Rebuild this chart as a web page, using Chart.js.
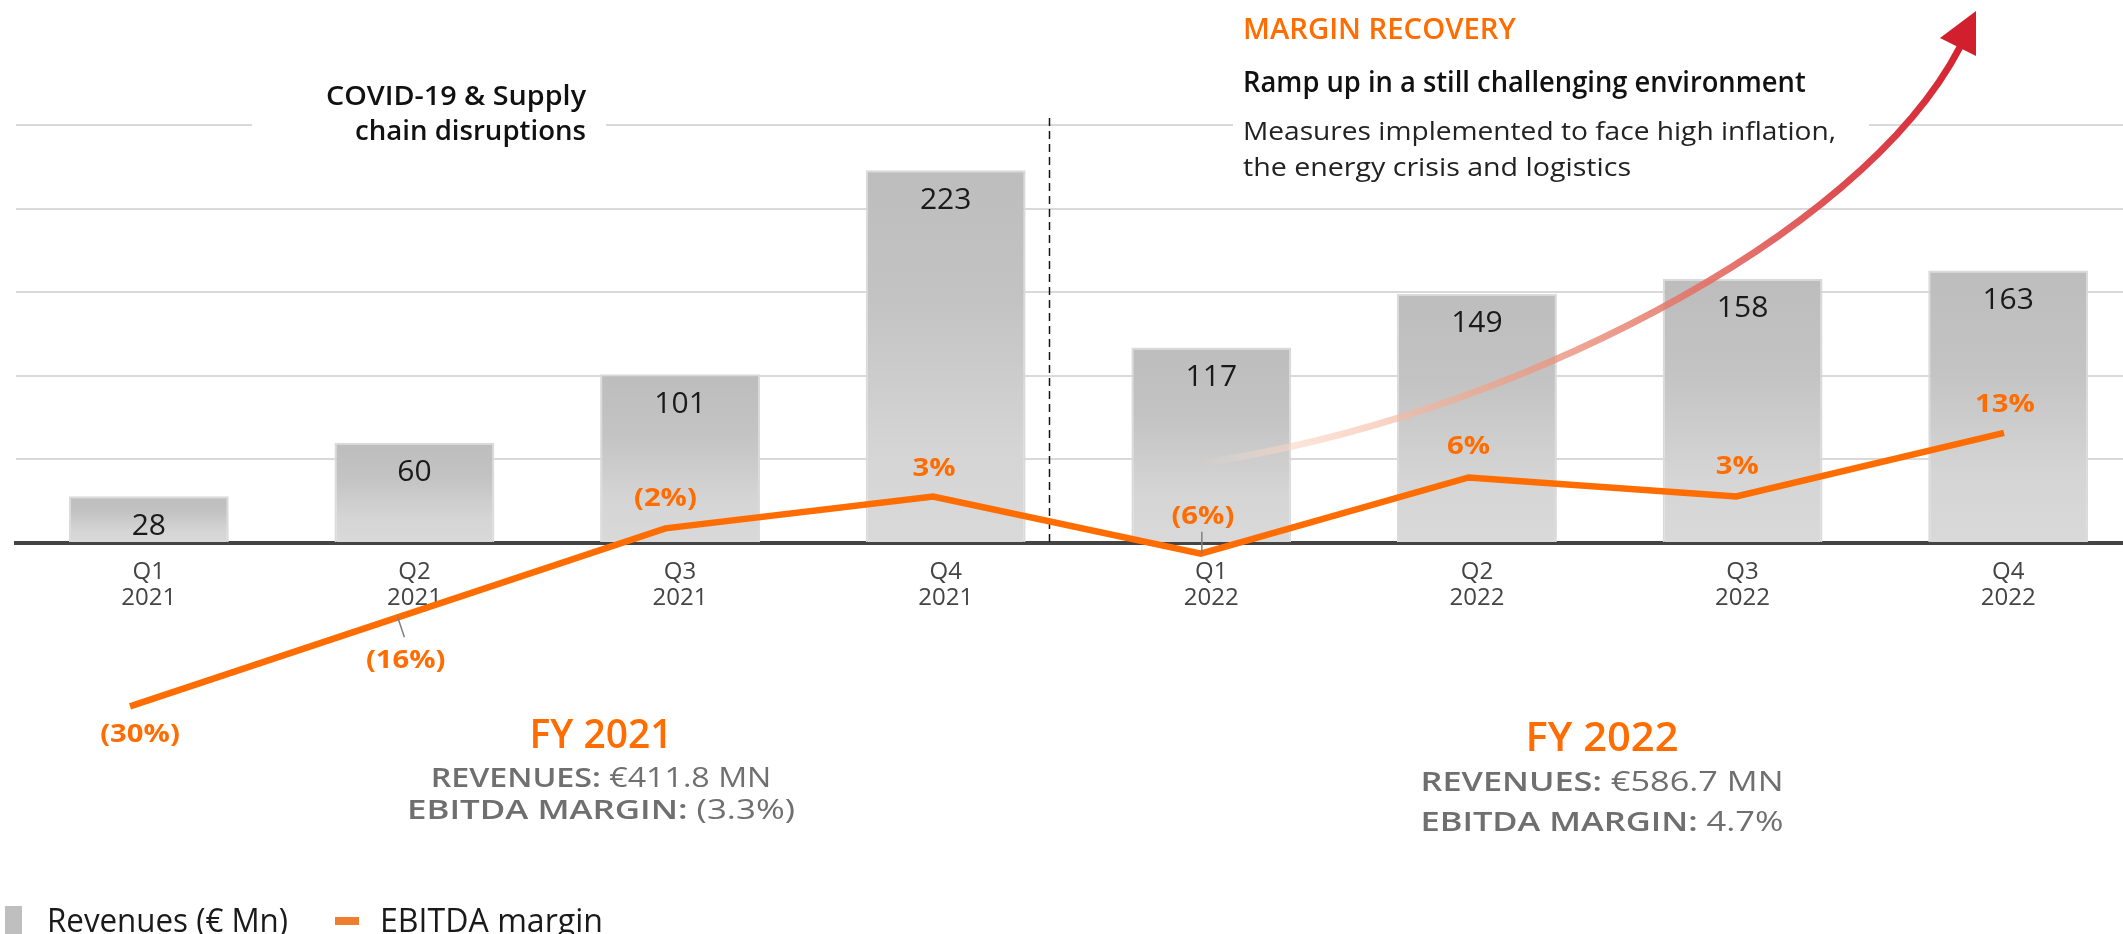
<!DOCTYPE html>
<html>
<head>
<meta charset="utf-8">
<script src="https://cdn.jsdelivr.net/npm/chart.js@4.4.1/dist/chart.umd.min.js"></script>
<style>
  html, body { margin: 0; padding: 0; background: #ffffff; overflow: hidden; width: 2123px; height: 934px; }
  #wrap { position: absolute; left: 0; top: 0; width: 2142px; height: 934px; }
</style>
</head>
<body>
<div id="wrap"><canvas id="chart"></canvas></div>
<script>
// ---------------- data ----------------
const quarters = ['Q1', 'Q2', 'Q3', 'Q4', 'Q1', 'Q2', 'Q3', 'Q4'];
const years = ['2021', '2021', '2021', '2021', '2022', '2022', '2022', '2022'];
const revenues = [28, 60, 101, 223, 117, 149, 158, 163];          // € Mn
const ebitdaMargin = [-30, -16, -2, 3, -6, 6, 3, 13];            // %
const revenueTicks = [0, 50, 100, 150, 200, 250];
const seriesNames = ['Revenues (€ Mn)', 'EBITDA margin'];
const fyTitles = ['FY 2021', 'FY 2022'];
const fyRevenues = ['€411.8 MN', '€586.7 MN'];
const fyMargins = ['(3.3%)', '4.7%'];
const covidNote = ['COVID-19 & Supply', 'chain disruptions'];
const recoveryTitle = 'MARGIN RECOVERY';
const recoveryLines = ['Ramp up in a still challenging environment',
                       'Measures implemented to face high inflation,',
                       'the energy crisis and logistics'];

// ---------------- styles ----------------
const ORANGE = '#ff6c00';
const FONT = '"Open Sans", "Noto Sans", sans-serif';
const marginLabelDx = [10, 8, 0, 1, 2, 0, 1, 1];
const marginLabelDy = [36, 51, -22, -21, -30, -23, -23, -21];   // baseline offset from point
const leaders = { 1: [6.7, 20], 4: [1, -22] };

function drawRuns(ctx, runs, x, y, align, targetW, sxFixed) {
  ctx.save();
  ctx.textBaseline = 'alphabetic';
  ctx.textAlign = 'left';
  let natural = 0;
  runs.forEach(r => {
    ctx.font = r.font;
    r.w = ctx.measureText(r.text).width;
    natural += r.w;
  });
  const sx = targetW ? targetW / natural : (sxFixed || 1);
  const total = natural * sx;
  const x0 = align === 'center' ? x - total / 2 : (align === 'right' ? x - total : x);
  ctx.translate(x0, y);
  ctx.scale(sx, 1);
  let cx = 0;
  runs.forEach(r => {
    ctx.font = r.font;
    ctx.fillStyle = r.color;
    ctx.fillText(r.text, cx, 0);
    cx += r.w;
  });
  ctx.restore();
}

const overlay = {
  id: 'overlay',
  beforeDatasetsDraw(chart) {
    const { ctx, scales: { x, y } } = chart;
    const p3 = x.getPixelForValue(3), p4 = x.getPixelForValue(4);
    const sx = Math.round(p3 + (p4 - p3) * 0.39) + 0.5;
    ctx.save();
    ctx.strokeStyle = '#151515';
    ctx.lineWidth = 1.5;
    ctx.setLineDash([8, 5]);
    ctx.beginPath();
    ctx.moveTo(sx, 118);
    ctx.lineTo(sx, y.getPixelForValue(0));
    ctx.stroke();
    ctx.restore();
    // white masks behind the annotation texts
    ctx.save();
    ctx.fillStyle = '#ffffff';
    ctx.fillRect(252, 112, 354, 28);
    ctx.fillRect(1233, 112, 636, 28);
    ctx.restore();
  },
  afterDatasetsDraw(chart) {
    const { ctx } = chart;

    // recovery arrow
    ctx.save();
    const P0 = [1202, 463], P1 = [1500, 420], P2 = [1860, 240], P3 = [1960, 47];
    const g = ctx.createLinearGradient(P0[0], P0[1], P3[0], P3[1]);
    g.addColorStop(0, 'rgba(252,228,214,0)');
    g.addColorStop(0.1, 'rgba(250,212,192,0.6)');
    g.addColorStop(0.35, 'rgba(236,160,135,0.75)');
    g.addColorStop(0.6, 'rgba(228,112,100,0.88)');
    g.addColorStop(0.8, 'rgba(220,68,74,0.96)');
    g.addColorStop(1, 'rgb(212,35,48)');
    ctx.strokeStyle = g;
    ctx.lineWidth = 7;
    ctx.lineCap = 'butt';
    ctx.beginPath();
    ctx.moveTo(P0[0], P0[1]);
    ctx.bezierCurveTo(P1[0], P1[1], P2[0], P2[1], P3[0], P3[1]);
    ctx.stroke();
    ctx.fillStyle = '#d21f2e';
    ctx.beginPath();
    ctx.moveTo(1976, 11);
    ctx.lineTo(1940, 38);
    ctx.lineTo(1976, 56);
    ctx.closePath();
    ctx.fill();
    ctx.restore();

    // bar value labels
    const bm = chart.getDatasetMeta(0);
    bm.data.forEach((bar, i) => {
      drawRuns(ctx, [{ text: String(revenues[i]), font: '400 30px ' + FONT, color: '#1a1a1a' }],
               bar.x, bar.y + 38.5, 'center');
    });

    // margin labels + leader lines
    const lm = chart.getDatasetMeta(1);
    lm.data.forEach((pt, i) => {
      const v = ebitdaMargin[i];
      const txt = v < 0 ? '(' + Math.abs(v) + '%)' : v + '%';
      drawRuns(ctx, [{ text: txt, font: '700 25px ' + FONT, color: ORANGE }],
               pt.x + marginLabelDx[i], pt.y + marginLabelDy[i], 'center', 0, 1.17);
      if (leaders[i]) {
        ctx.save();
        ctx.strokeStyle = '#808080';
        ctx.lineWidth = 1.5;
        ctx.beginPath();
        ctx.moveTo(pt.x + (i === 4 ? 1 : 0), pt.y);
        ctx.lineTo(pt.x + leaders[i][0], pt.y + leaders[i][1]);
        ctx.stroke();
        ctx.restore();
      }
    });

    // annotation texts
    drawRuns(ctx, [{ text: covidNote[0], font: '600 27px ' + FONT, color: '#111' }], 586, 105, 'right', 260);
    drawRuns(ctx, [{ text: covidNote[1], font: '600 27px ' + FONT, color: '#111' }], 586, 140, 'right', 231);
    drawRuns(ctx, [{ text: recoveryTitle, font: '600 29px ' + FONT, color: ORANGE }], 1243, 39.3, 'left', 272.7);
    drawRuns(ctx, [{ text: recoveryLines[0], font: '600 28px ' + FONT, color: '#111' }], 1243, 91.7, 'left', 562.7);
    drawRuns(ctx, [{ text: recoveryLines[1], font: '400 25px ' + FONT, color: '#222' }], 1243, 140, 'left', 593);
    drawRuns(ctx, [{ text: recoveryLines[2], font: '400 25px ' + FONT, color: '#222' }], 1243, 175.5, 'left', 388);

    // FY summaries
    const fyPos = [
      { cx: 601, t: [748.3, 143], r: [787.3, 340.7], m: [819.3, 388] },
      { cx: 1602, t: [750.5, 153], r: [790.7, 363], m: [830.7, 363] }
    ];
    fyPos.forEach((p, k) => {
      drawRuns(ctx, [{ text: fyTitles[k], font: '600 40px ' + FONT, color: ORANGE }], p.cx, p.t[0], 'center', p.t[1]);
      drawRuns(ctx, [{ text: 'REVENUES: ', font: '600 27px ' + FONT, color: '#6f6f6f' },
                     { text: fyRevenues[k], font: '400 27px ' + FONT, color: '#6f6f6f' }], p.cx, p.r[0], 'center', p.r[1]);
      drawRuns(ctx, [{ text: 'EBITDA MARGIN: ', font: '600 27px ' + FONT, color: '#6f6f6f' },
                     { text: fyMargins[k], font: '400 27px ' + FONT, color: '#6f6f6f' }], p.cx, p.m[0], 'center', p.m[1]);
    });

    // legend
    ctx.save();
    ctx.fillStyle = '#bfbfbf';
    ctx.fillRect(5, 906, 17, 30);
    ctx.fillStyle = '#ed7d31';
    ctx.fillRect(335, 917, 24, 8);
    ctx.restore();
    drawRuns(ctx, [{ text: chart.data.datasets[0].label, font: '400 32px ' + FONT, color: '#1a1a1a' }], 47, 932, 'left', 241);
    drawRuns(ctx, [{ text: chart.data.datasets[1].label, font: '400 32px ' + FONT, color: '#1a1a1a' }], 380, 932, 'left', 223);
  }
};

function barGradient(c) {
  const chart = c.chart;
  if (!chart.chartArea || c.type !== 'data') return '#c8c8c8';
  const ys = chart.scales.y;
  const top = ys.getPixelForValue(revenues[c.dataIndex]);
  const base = ys.getPixelForValue(0);
  const g = chart.ctx.createLinearGradient(0, top, 0, base);
  g.addColorStop(0, '#bdbdbd');
  g.addColorStop(0.35, '#c3c3c3');
  g.addColorStop(0.75, '#d5d5d5');
  g.addColorStop(1, '#d9d9d9');
  return g;
}

function build() {
  Chart.defaults.font.family = FONT;
  new Chart(document.getElementById('chart'), {
    data: {
      labels: quarters.map((q, i) => [q, years[i]]),
      datasets: [
        {
          type: 'bar',
          label: seriesNames[0],
          data: revenues,
          xAxisID: 'x',
          yAxisID: 'y',
          backgroundColor: barGradient,
          borderColor: '#dadada',
          borderWidth: 2,
          borderSkipped: 'start',
          barPercentage: 0.602,
          categoryPercentage: 1,
          grouped: false,
          order: 2
        },
        {
          type: 'line',
          label: seriesNames[1],
          data: ebitdaMargin.map((v, i) => ({ x: i, y: v })),
          xAxisID: 'x2',
          yAxisID: 'y2',
          borderColor: ORANGE,
          borderWidth: 6.5,
          borderJoinStyle: 'miter',
          borderCapStyle: 'butt',
          pointRadius: 0,
          tension: 0,
          fill: false,
          clip: false,
          order: 1
        }
      ]
    },
    options: {
      responsive: true,
      maintainAspectRatio: false,
      animation: false,
      devicePixelRatio: 1,
      events: [],
      layout: { padding: { left: 16, right: 1, top: 125, bottom: 311 } },
      plugins: { legend: { display: false }, tooltip: { enabled: false } },
      scales: {
        x: {
          type: 'category',
          position: 'bottom',
          offset: true,
          grid: { display: false, drawTicks: false },
          border: { display: true, color: '#444444', width: 4 },
          ticks: { color: '#444444', font: { family: FONT, size: 24, lineHeight: 26 / 24 },
                   padding: 16, maxRotation: 0, autoSkip: false },
          afterFit: s => { s.height = 80; }
        },
        x2: { type: 'linear', position: 'bottom', display: false, offset: false,
              grid: { offset: false }, min: -0.42583, max: 7.51174 },
        y: {
          type: 'linear',
          position: 'left',
          min: revenueTicks[0],
          max: revenueTicks[revenueTicks.length - 1],
          ticks: { display: false, stepSize: revenueTicks[1] - revenueTicks[0] },
          grid: { color: '#d9d9d9', lineWidth: 2, drawTicks: false },
          border: { display: false },
          afterFit: s => { s.width = 0; }
        },
        y2: { type: 'linear', position: 'right', display: false, min: -4.31, max: 61.44 }
      }
    },
    plugins: [overlay]
  });
}

const fontList = ['400 23px "Open Sans"', '600 27px "Open Sans"', '700 25px "Open Sans"'];
Promise.all(fontList.map(f => document.fonts.load(f))).then(build, build);
</script>
</body>
</html>
